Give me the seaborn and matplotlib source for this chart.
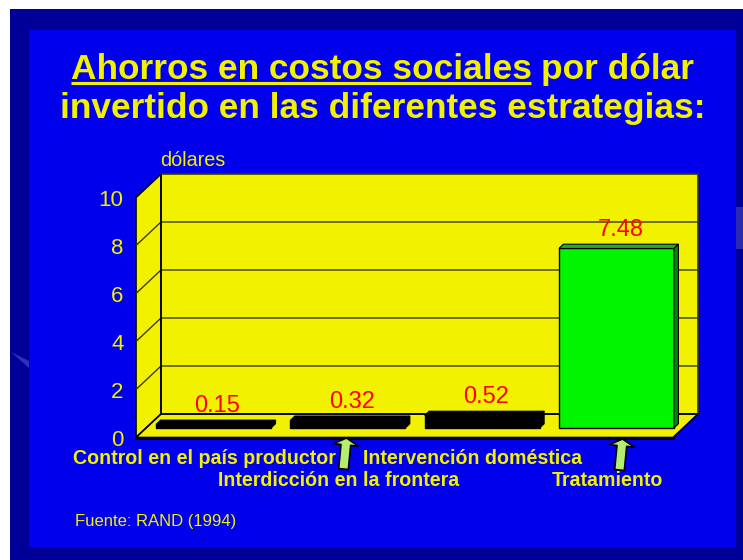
import matplotlib
matplotlib.use("Agg")
import matplotlib.pyplot as plt
from matplotlib.patches import Polygon, Rectangle, FancyArrowPatch
import pandas as pd
import seaborn as sns

categories = ["Control en el país productor", "Interdicción en la frontera",
              "Intervención doméstica", "Tratamiento"]
values = [0.15, 0.32, 0.52, 7.48]
value_labels = ["0.15", "0.32", "0.52", "7.48"]
y_ticks = [0, 2, 4, 6, 8, 10]
front_colors = ["#000000", "#000000", "#000000", "#00F500"]
side_colors = ["#000000", "#000000", "#000000", "#008A00"]
top_colors = ["#000000", "#000000", "#000000", "#1FB01F"]

sns.set_theme(style="white")
plt.rcParams["font.family"] = ["Liberation Sans", "DejaVu Sans"]

W, H = 743, 560
YELLOW = "#F2F200"
TXT = "#F2F200"
LINE = "#3A3A00"
fig = plt.figure(figsize=(W / 100, H / 100), dpi=100, facecolor="white")


def px_axes(l, t, r, b):
    a = fig.add_axes([l / W, 1 - b / H, (r - l) / W, (b - t) / H])
    a.patch.set_alpha(0)
    return a


# slide background, in pixel coordinates
bg = px_axes(0, 0, W, H)
bg.set_xlim(0, W)
bg.set_ylim(H, 0)
bg.axis("off")
bg.add_patch(Rectangle((10, 9), W - 10, H - 9, fc="#000099", ec="none"))
bg.add_patch(Rectangle((29, 30), 707, 517, fc="#0000EC", ec="none"))
bg.add_patch(Rectangle((736, 207), 7, 42, fc="#2A2AAE", ec="none"))
bg.add_patch(Polygon([(11, 352), (29, 361), (29, 368)], fc="#3030B8", ec="none"))

# title
bg.text(71, 79, "Ahorros en costos sociales", fontsize=25.4, fontweight="bold", color=TXT, ha="left", va="baseline")
bg.text(694, 79, "por dólar", fontsize=25.4, fontweight="bold", color=TXT, ha="right", va="baseline")
bg.plot([71, 531], [83, 83], color=TXT, lw=2.2, solid_capstyle="butt")
bg.text(383, 118, "invertido en las diferentes estrategias:", fontsize=25.4, fontweight="bold",
        color=TXT, ha="center", va="baseline")
bg.text(160, 166, "dólares", fontsize=14.2, color=TXT, ha="left", va="baseline")
bg.text(75, 526, "Fuente: RAND (1994)", fontsize=12, color=TXT, ha="left", va="baseline")

# walls and value axis
ax = px_axes(136, 197.5, 673, 437.5)
ax.set_xlim(136, 673)
ax.set_ylim(0, 10)
for s in ax.spines.values():
    s.set_visible(False)
ax.set_xticks([])
ax.set_yticks(y_ticks)
ax.set_yticklabels([str(t) for t in y_ticks], fontsize=16, color=TXT)
ax.tick_params(axis="y", length=0, pad=9)
dx, dy = 25, 23.5 / 24
ax.add_patch(Polygon([(136, 0), (136, 10), (136 + dx, 10 + dy), (136 + dx, dy)], fc=YELLOW, ec="black", lw=1.2, clip_on=False))
ax.add_patch(Polygon([(136, 0), (673, 0), (673 + dx, dy), (136 + dx, dy)], fc=YELLOW, ec="black", lw=1.2, clip_on=False))
ax.add_patch(Rectangle((136 + dx, dy), 537, 10, fc=YELLOW, ec=LINE, lw=1.2, clip_on=False))
for t in y_ticks[1:-1]:
    ax.plot([136, 136 + dx, 673 + dx], [t, t + dy, t + dy], color=LINE, lw=1, clip_on=False)
ax.plot([136 + dx, 136 + dx], [dy, 10 + dy], color="black", lw=1.2, clip_on=False)
ax.plot([136 + dx, 673 + dx], [dy, dy], color="black", lw=1.2, clip_on=False)
ax.plot([136, 673], [0, 0], color="black", lw=2.2, clip_on=False)

# bars
bar_ax = px_axes(146.4, 188, 683.6, 428)
df = pd.DataFrame({"estrategia": categories, "valor": values})
sns.barplot(data=df, x="estrategia", y="valor", hue="estrategia", palette=front_colors,
            legend=False, width=0.856, ax=bar_ax, edgecolor="black", linewidth=1, saturation=1)
bar_ax.set_ylim(0, 10)
bar_ax.set_xlim(-0.5, 3.5)
bar_ax.axis("off")
ddx, ddy = 4.5 / 134.3, 4.3 / 24
for p, fc_top, fc_side in zip(list(bar_ax.patches), top_colors, side_colors):
    p.set_clip_on(False)
    x0, y1 = p.get_x(), p.get_height()
    x1 = x0 + p.get_width()
    bar_ax.add_patch(Polygon([(x0, y1), (x1, y1), (x1 + ddx, y1 + ddy), (x0 + ddx, y1 + ddy)],
                             fc=fc_top, ec="black", lw=0.8, clip_on=False))
    bar_ax.add_patch(Polygon([(x1, 0), (x1, y1), (x1 + ddx, y1 + ddy), (x1 + ddx, ddy)],
                             fc=fc_side, ec="black", lw=0.8, clip_on=False))

label_rows = [30, 53, 30, 53]
for i, (v, lab, cat, row) in enumerate(zip(values, value_labels, categories, label_rows)):
    bar_ax.annotate(lab, xy=(i, v), xytext=(4 * 0.72, 18.5 * 0.72), textcoords="offset points",
                    ha="center", va="center", fontsize=17, color="#FF0000", annotation_clip=False)
    bar_ax.annotate(cat, xy=(i, 0), xytext=(-9.5 * 0.72, -row * 0.72), textcoords="offset points",
                    ha="center", va="center", fontsize=14.1, fontweight="bold", color=TXT, annotation_clip=False)

# arrows
over = px_axes(0, 0, W, H)
over.set_xlim(0, W)
over.set_ylim(H, 0)
over.axis("off")
for start, end in [((343.5, 469), (346.5, 438)), ((619.5, 470), (622.5, 439))]:
    over.add_patch(FancyArrowPatch(start, end, arrowstyle="simple,head_width=18,head_length=5,tail_width=7",
                                   mutation_scale=1, fc="#B4EE70", ec="black", lw=1.2,
                                   shrinkA=0, shrinkB=0))

fig.savefig("out.png", dpi=100, facecolor="white")
